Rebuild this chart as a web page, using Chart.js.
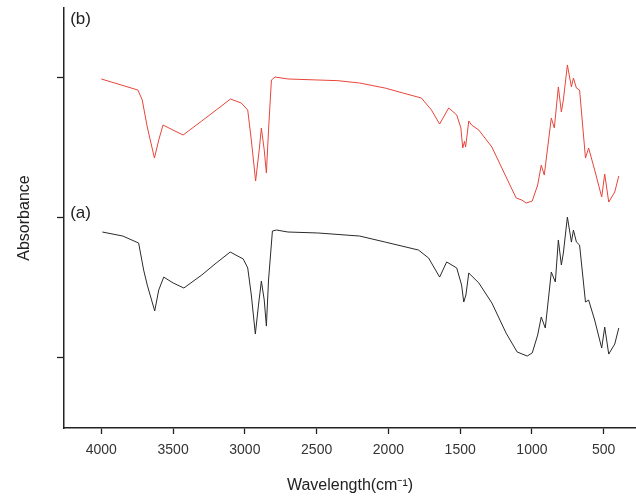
<!doctype html>
<html>
<head>
	<meta charset="UTF-8">
	<title>FTIR spectra</title>
	<script src="https://cdn.jsdelivr.net/npm/chart.js@4/dist/chart.umd.min.js"></script>
	<style>
		html, body { margin: 0; padding: 0; background: #fff; }
		#holder { width: 636px; height: 498px; }
	</style>
</head>
<body>
<div id="holder">
	<canvas id="chart-area"></canvas>
</div>
<script>
	// wavenumbers and absorbance, (b) = red, (a) = black
	var wnB = [4000, 3745, 3715, 3680, 3630, 3600, 3570, 3500, 3430, 3300, 3200, 3100, 3025, 2980, 2955, 2925, 2900, 2885, 2865, 2850, 2835, 2815, 2790, 2700, 2500, 2352, 2200, 2022, 1900, 1770, 1700, 1643, 1580, 1524, 1495, 1482, 1470, 1462, 1440, 1420, 1370, 1279, 1180, 1110, 1070, 1040, 998, 960, 935, 914, 865, 844, 816, 795, 781, 753, 725, 711, 690, 668, 627, 605, 563, 514, 493, 465, 423, 395];
	var absB = [1.986, 1.907, 1.836, 1.643, 1.421, 1.550, 1.657, 1.621, 1.586, 1.686, 1.764, 1.843, 1.814, 1.764, 1.550, 1.257, 1.479, 1.636, 1.479, 1.314, 1.621, 1.979, 2.000, 1.986, 1.979, 1.974, 1.957, 1.921, 1.886, 1.850, 1.764, 1.664, 1.779, 1.729, 1.636, 1.493, 1.540, 1.500, 1.686, 1.657, 1.621, 1.500, 1.286, 1.136, 1.121, 1.100, 1.114, 1.229, 1.371, 1.300, 1.707, 1.636, 1.929, 1.750, 1.836, 2.086, 1.929, 1.993, 1.921, 1.907, 1.421, 1.493, 1.336, 1.143, 1.307, 1.107, 1.179, 1.293];

	var wnA = [3993, 3850, 3740, 3705, 3680, 3628, 3600, 3565, 3500, 3425, 3300, 3200, 3102, 3011, 2980, 2955, 2927, 2905, 2885, 2865, 2850, 2835, 2808, 2780, 2700, 2492, 2200, 2022, 1790, 1720, 1643, 1594, 1524, 1490, 1475, 1460, 1440, 1370, 1279, 1180, 1103, 1033, 998, 960, 935, 907, 865, 837, 816, 795, 781, 753, 725, 711, 690, 668, 627, 605, 563, 514, 493, 465, 423, 395];
	var absA = [0.893, 0.864, 0.814, 0.621, 0.514, 0.329, 0.479, 0.571, 0.529, 0.493, 0.586, 0.671, 0.750, 0.700, 0.636, 0.443, 0.164, 0.371, 0.543, 0.407, 0.221, 0.550, 0.900, 0.907, 0.893, 0.886, 0.864, 0.821, 0.764, 0.707, 0.571, 0.679, 0.636, 0.514, 0.393, 0.443, 0.600, 0.529, 0.386, 0.171, 0.036, 0.007, 0.029, 0.157, 0.286, 0.207, 0.607, 0.536, 0.836, 0.657, 0.743, 1.000, 0.821, 0.907, 0.821, 0.800, 0.393, 0.407, 0.264, 0.064, 0.214, 0.021, 0.093, 0.207];

	var xTicks = [4000, 3500, 3000, 2500, 2000, 1500, 1000, 500];
	var yTicks = [0, 1, 2];

	// curve tags
	var tagText = ['(b)', '(a)'];
	var tagX = [4217, 4217];
	var tagY = [2.41, 1.03];

	function toPoints(xs, ys) {
		var pts = [];
		for (var i = 0; i < xs.length; i++) {
			pts.push({x: xs[i], y: ys[i]});
		}
		return pts;
	}

	var tagPlugin = {
		id: 'tags',
		afterDraw: function (chart) {
			var ctx = chart.ctx;
			var xs = chart.scales.x, ys = chart.scales.y;
			ctx.save();
			ctx.fillStyle = '#222';
			ctx.font = '17px "Liberation Sans", Arial, sans-serif';
			ctx.textAlign = 'left';
			ctx.textBaseline = 'middle';
			for (var i = 0; i < tagText.length; i++) {
				ctx.fillText(tagText[i], xs.getPixelForValue(tagX[i]), ys.getPixelForValue(tagY[i]));
			}
			ctx.restore();
		}
	};

	var config = {
		type: 'line',
		data: {
			datasets: [
				{
					label: '(b)',
					data: toPoints(wnB, absB),
					borderColor: '#e8453a',
					borderWidth: 1,
					pointRadius: 0,
					tension: 0
				},
				{
					label: '(a)',
					data: toPoints(wnA, absA),
					borderColor: '#2a2a2a',
					borderWidth: 1,
					pointRadius: 0,
					tension: 0
				}
			]
		},
		options: {
			responsive: false,
			animation: false,
			layout: { padding: { top: 8, right: 0, left: 0, bottom: 0 } },
			plugins: {
				legend: { display: false },
				tooltip: { enabled: false }
			},
			scales: {
				x: {
					type: 'linear',
					reverse: true,
					min: 275,
					max: 4260,
					afterBuildTicks: function (scale) {
						scale.ticks = xTicks.map(function (v) { return {value: v}; });
					},
					afterFit: function (scale) { scale.height = 70; },
					grid: {
						drawOnChartArea: false,
						drawTicks: true,
						tickLength: 6,
						tickColor: '#222',
						tickWidth: 1.3
					},
					border: { display: true, color: '#222', width: 1.5 },
					ticks: {
						padding: 8,
						autoSkip: false,
						color: '#333',
						font: { family: '"Liberation Sans", Arial, sans-serif', size: 14 },
						maxRotation: 0,
						callback: function (v) { return v; }
					},
					title: {
						display: true,
						text: 'Wavelength(cm⁻¹)',
						color: '#222',
						font: { family: '"Liberation Sans", Arial, sans-serif', size: 16 },
						padding: { top: 0, bottom: 3 }
					}
				},
				y: {
					min: -0.507,
					max: 2.493,
					afterBuildTicks: function (scale) {
						scale.ticks = yTicks.map(function (v) { return {value: v}; });
					},
					afterFit: function (scale) { scale.width = 64; },
					grid: {
						drawOnChartArea: false,
						drawTicks: true,
						tickLength: 7,
						tickColor: '#222',
						tickWidth: 1.3
					},
					border: { display: true, color: '#222', width: 1.5 },
					ticks: { display: false },
					title: {
						display: true,
						text: 'Absorbance',
						color: '#222',
						font: { family: '"Liberation Sans", Arial, sans-serif', size: 16 },
						padding: { top: 15, bottom: 0 }
					}
				}
			}
		},
		plugins: [tagPlugin]
	};

	var canvas = document.getElementById('chart-area');
	canvas.width = 636;
	canvas.height = 498;
	window.myChart = new Chart(canvas.getContext('2d'), config);
</script>
</body>
</html>
